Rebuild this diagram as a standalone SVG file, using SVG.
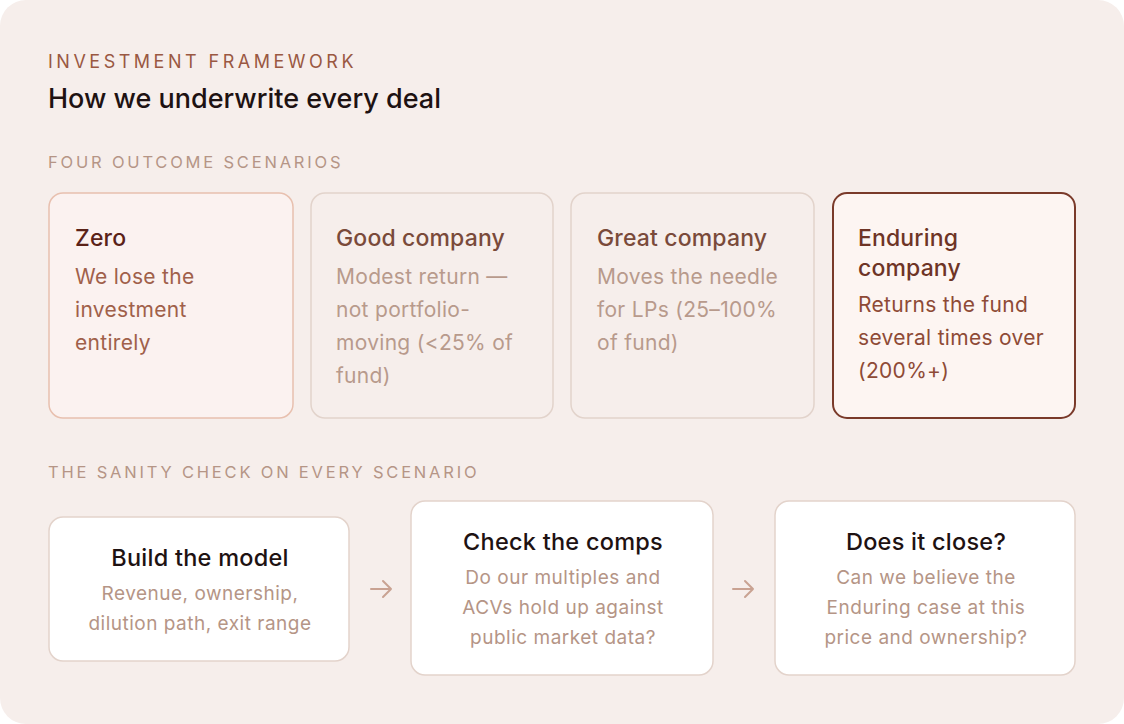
<svg xmlns="http://www.w3.org/2000/svg" width="1124" height="724" viewBox="0 0 1124 724">
<style>
text{font-family:Inter,"Noto Sans","Liberation Sans",sans-serif}
.eyebrow{font-size:18px;letter-spacing:3.5px;fill:#9A5842}
.sec{font-size:16.5px;letter-spacing:2.8px;fill:#B59586}
.h1{font-size:27px;font-weight:500;fill:#1E1212}
.ct{font-size:23px;font-weight:500;letter-spacing:0.15px}
.cb{font-size:21px;letter-spacing:0.3px}
.bt{font-size:23.5px;font-weight:500;letter-spacing:0.25px;fill:#1E1212;text-anchor:middle}
.bb{font-size:19px;letter-spacing:0.5px;fill:#B59586;text-anchor:middle}
.card{stroke-width:1.5}
.box{fill:#FFFFFF;stroke:#E3D3CB;stroke-width:1.5}
.arr{fill:none;stroke:#C9A292;stroke-width:2;stroke-linecap:round;stroke-linejoin:round}
</style>
<rect x="0" y="0" width="1124" height="724" fill="#FFFFFF"/>
<rect x="0" y="0" width="1124" height="724" rx="26" fill="#F6EEEB"/>
<text class="eyebrow" x="48" y="68">INVESTMENT FRAMEWORK</text>
<text class="h1" x="48" y="108">How we underwrite every deal</text>
<text class="sec" x="48" y="168">FOUR OUTCOME SCENARIOS</text>

<g id="zero">
<rect class="card" x="49" y="193" width="244" height="225" rx="14" fill="#FBF2F0" stroke="#E8C0AF"/>
<text class="ct" x="75" y="246" fill="#5A2218">Zero</text>
<text class="cb" fill="#A0604A"><tspan x="75" y="284">We lose the</tspan><tspan x="75" y="317">investment</tspan><tspan x="75" y="350">entirely</tspan></text>
</g>
<g id="good">
<rect class="card" x="311" y="193" width="242" height="225" rx="14" fill="#F6EEEB" stroke="#E2D3CB"/>
<text class="ct" x="336" y="246" fill="#7A4A3A">Good company</text>
<text class="cb" fill="#B89A8C"><tspan x="336" y="284">Modest return —</tspan><tspan x="336" y="317">not portfolio-</tspan><tspan x="336" y="350">moving (&lt;25% of</tspan><tspan x="336" y="383">fund)</tspan></text>
</g>
<g id="great">
<rect class="card" x="571" y="193" width="243" height="225" rx="14" fill="#F6EEEB" stroke="#E2D3CB"/>
<text class="ct" x="597" y="246" fill="#7A4A3A">Great company</text>
<text class="cb" fill="#B89A8C"><tspan x="597" y="284">Moves the needle</tspan><tspan x="597" y="317">for LPs (25–100%</tspan><tspan x="597" y="350">of fund)</tspan></text>
</g>
<g id="enduring">
<rect x="833" y="193" width="242" height="225" rx="14" fill="#FDF5F2" stroke="#7A3A2A" stroke-width="2"/>
<text class="ct" fill="#6E3426"><tspan x="858" y="246">Enduring</tspan><tspan x="858" y="276">company</tspan></text>
<text class="cb" fill="#8E4A36"><tspan x="858" y="312">Returns the fund</tspan><tspan x="858" y="345">several times over</tspan><tspan x="858" y="378">(200%+)</tspan></text>
</g>

<text class="sec" x="48" y="478">THE SANITY CHECK ON EVERY SCENARIO</text>

<g id="build">
<rect class="box" x="49" y="517" width="300" height="144" rx="14"/>
<text class="bt" x="200" y="566">Build the model</text>
<text class="bb"><tspan x="200" y="600">Revenue, ownership,</tspan><tspan x="200" y="630">dilution path, exit range</tspan></text>
</g>
<g id="comps">
<rect class="box" x="411" y="501" width="302" height="174" rx="14"/>
<text class="bt" x="563" y="550">Check the comps</text>
<text class="bb"><tspan x="563" y="584">Do our multiples and</tspan><tspan x="563" y="614">ACVs hold up against</tspan><tspan x="563" y="644">public market data?</tspan></text>
</g>
<g id="close">
<rect class="box" x="775" y="501" width="300" height="174" rx="14"/>
<text class="bt" x="926" y="550">Does it close?</text>
<text class="bb"><tspan x="926" y="584">Can we believe the</tspan><tspan x="926" y="614">Enduring case at this</tspan><tspan x="926" y="644">price and ownership?</tspan></text>
</g>

<g id="connectors">
<path class="arr" d="M371 589 H391 M383 581 L391 589 L383 597"/>
<path class="arr" d="M733 589 H753 M745 581 L753 589 L745 597"/>
</g>
</svg>
